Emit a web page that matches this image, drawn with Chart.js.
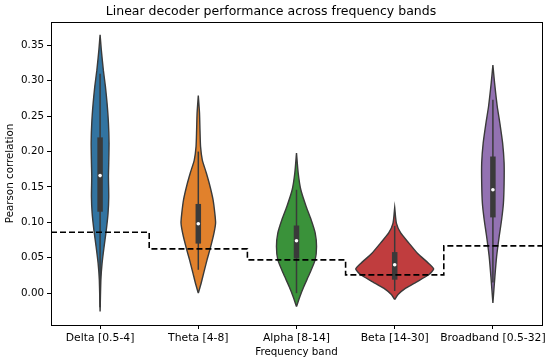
<!DOCTYPE html>
<html>
<head>
<meta charset="utf-8">
<script src="https://cdn.jsdelivr.net/npm/chart.js@4.4.0/dist/chart.umd.min.js"></script>
<style>
  body { margin: 0; background: #fff; }
  #wrap { width: 550px; height: 364px; }
</style>
</head>
<body>
<div id="wrap"><canvas id="myChart" width="550" height="364"></canvas></div>
<script>
const categories = ['Delta [0.5-4]', 'Theta [4-8]', 'Alpha [8-14]', 'Beta [14-30]', 'Broadband [0.5-32]'];
const yTicks = [0, 0.05, 0.10, 0.15, 0.20, 0.25, 0.30, 0.35];

// violin outlines: [value, half width in category units]
const deltaOutline = [[-0.026, 0], [0.019, 0.008], [0.042, 0.020], [0.066, 0.041], [0.089, 0.063], [0.113, 0.081], [0.136, 0.088], [0.165, 0.085], [0.184, 0.088], [0.212, 0.091], [0.240, 0.085], [0.268, 0.071], [0.292, 0.054], [0.315, 0.033], [0.344, 0.012], [0.365, 0]];
const thetaOutline = [[0, 0], [0.014, 0.029], [0.028, 0.054], [0.047, 0.089], [0.066, 0.127], [0.085, 0.160], [0.099, 0.176], [0.113, 0.168], [0.132, 0.150], [0.151, 0.119], [0.170, 0.081], [0.188, 0.041], [0.207, 0.023], [0.231, 0.017], [0.255, 0.012], [0.279, 0]];
const alphaOutline = [[-0.019, 0], [-0.005, 0.034], [0.009, 0.074], [0.028, 0.135], [0.047, 0.190], [0.066, 0.204], [0.085, 0.190], [0.104, 0.148], [0.122, 0.099], [0.146, 0.044], [0.170, 0.017], [0.198, 0]];
const betaOutline = [[-0.009, 0], [-0.002, 0.034], [0.007, 0.112], [0.016, 0.224], [0.026, 0.346], [0.034, 0.397], [0.042, 0.346], [0.056, 0.234], [0.071, 0.143], [0.085, 0.061], [0.099, 0.017], [0.121, 0]];
const broadOutline = [[-0.014, 0], [0.023, 0.020], [0.052, 0.038], [0.080, 0.064], [0.104, 0.089], [0.127, 0.107], [0.155, 0.114], [0.184, 0.114], [0.212, 0.099], [0.240, 0.071], [0.264, 0.044], [0.297, 0.017], [0.322, 0]];
const outlines = [deltaOutline, thetaOutline, alphaOutline, betaOutline, broadOutline];

// inner box: quartiles, median and whisker ends
const q1 = [0.115, 0.070, 0.049, 0.019, 0.107];
const q3 = [0.220, 0.126, 0.0955, 0.058, 0.193];
const medians = [0.166, 0.098, 0.074, 0.040, 0.146];
const whiskLo = [-0.02, 0.033, 0.0, 0.003, 0.015];
const whiskHi = [0.31, 0.20, 0.146, 0.095, 0.273];

// dashed baseline per band
const baseline = [0.086, 0.0626, 0.047, 0.0258, 0.0668];

const colors = ['#3274a1', '#e1812c', '#3a923a', '#c03d3e', '#9372b2'];
const edge = '#3a3a3a';

const datasets = [];

// step line across bands
const stepPts = baseline.map((v, i) => ({ x: i - 0.5, y: v }));
stepPts.push({ x: baseline.length - 0.5, y: baseline[baseline.length - 1] });
datasets.push({
    data: stepPts,
    showLine: true,
    stepped: true,
    borderColor: '#000',
    borderWidth: 1.6,
    borderDash: [6, 3],
    pointRadius: 0,
    order: 0
});

categories.forEach((c, i) => {
    datasets.push({
        data: [{ x: i, y: medians[i] }],
        pointRadius: 1.8,
        pointBackgroundColor: '#fff',
        pointBorderWidth: 0,
        order: 1
    });
    datasets.push({
        data: [{ x: i, y: q1[i] }, { x: i, y: q3[i] }],
        showLine: true,
        borderColor: edge,
        borderWidth: 5.5,
        borderCapStyle: 'butt',
        pointRadius: 0,
        order: 2
    });
    datasets.push({
        data: [{ x: i, y: whiskLo[i] }, { x: i, y: whiskHi[i] }],
        showLine: true,
        borderColor: edge,
        borderWidth: 1.5,
        pointRadius: 0,
        order: 3
    });
    const o = outlines[i];
    const right = o.map(p => ({ x: i + p[1], y: p[0] }));
    const left = o.slice().reverse().map(p => ({ x: i - p[1], y: p[0] }));
    datasets.push({
        data: right.concat(left),
        showLine: true,
        fill: 'shape',
        tension: 0.2,
        backgroundColor: colors[i],
        borderColor: edge,
        borderWidth: 1.4,
        pointRadius: 0,
        order: 4
    });
});

const frame = {
    id: 'frame',
    afterDatasetsDraw(chart) {
        const a = chart.chartArea;
        const c = chart.ctx;
        c.save();
        c.strokeStyle = '#000';
        c.lineWidth = 1;
        c.strokeRect(Math.round(a.left) + 0.5, Math.round(a.top) + 0.5, Math.round(a.right - a.left), Math.round(a.bottom - a.top));
        c.restore();
    }
};

Chart.defaults.font.family = "'DejaVu Sans', sans-serif";
Chart.defaults.color = '#000';

new Chart(document.getElementById('myChart'), {
    type: 'scatter',
    data: { datasets: datasets },
    options: {
        responsive: false,
        animation: false,
        devicePixelRatio: 1,
        layout: { padding: { left: 0, right: 8, top: 0, bottom: 0 } },
        plugins: {
            legend: { display: false },
            tooltip: { enabled: false },
            title: {
                display: true,
                text: 'Linear decoder performance across frequency bands',
                font: { size: 12.5, weight: 'normal' },
                color: '#000',
                padding: { top: 4, bottom: 3 }
            }
        },
        scales: {
            x: {
                type: 'linear',
                min: -0.5,
                max: 4.5,
                afterBuildTicks: axis => { axis.ticks = categories.map((c, i) => ({ value: i })); },
                afterFit: axis => { axis.height = 39; },
                grid: { drawOnChartArea: false, drawTicks: true, tickLength: 4, tickColor: '#000' },
                border: { display: false },
                ticks: {
                    font: { size: 10.8 },
                    padding: 3,
                    maxRotation: 0,
                    autoSkip: false,
                    callback: v => categories[v]
                },
                title: { display: true, text: 'Frequency band', font: { size: 10.3 }, padding: { top: 0, bottom: 5 } }
            },
            y: {
                min: -0.045,
                max: 0.383,
                afterBuildTicks: axis => { axis.ticks = yTicks.map(v => ({ value: v })); },
                afterFit: axis => { axis.width = 51; },
                grid: { drawOnChartArea: false, drawTicks: true, tickLength: 4, tickColor: '#000' },
                border: { display: false },
                ticks: {
                    font: { size: 10.3 },
                    padding: 3,
                    callback: v => v.toFixed(2)
                },
                title: { display: true, text: 'Pearson correlation', font: { size: 10.3 }, padding: { top: 4, bottom: 0 } }
            }
        }
    },
    plugins: [frame]
});
</script>
</body>
</html>
